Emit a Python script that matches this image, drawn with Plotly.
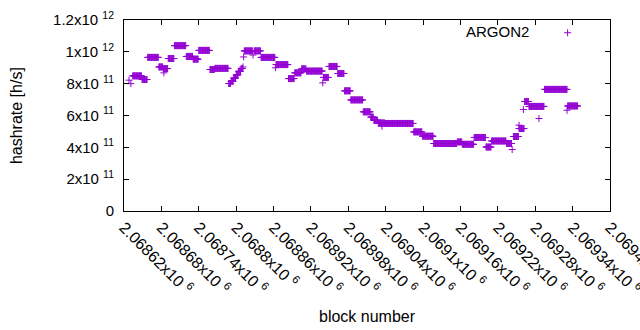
import plotly.graph_objects as go

# Runs of constant hashrate (block ranges inclusive)
run_start = [2068628, 2068631, 2068634, 2068649, 2068658, 2068676, 2068683, 2068684,
             2068691, 2068701, 2068720, 2068731, 2068740, 2068758, 2068766,
             2068788, 2068792, 2068796, 2068800, 2068804, 2068808, 2068811, 2068812,
             2068813, 2068827, 2068829, 2068840, 2068863, 2068864, 2068884, 2068894,
             2068905, 2068913, 2068939, 2068940, 2068949, 2068963, 2068974, 2068984,
             2069004, 2069016, 2069021, 2069028, 2069034, 2069039, 2069085, 2069099,
             2069117, 2069155, 2069163, 2069182, 2069201, 2069210, 2069234, 2069243,
             2069245, 2069254, 2069254, 2069261, 2069263, 2069270, 2069286, 2069295,
             2069331, 2069332]
run_end = [2068628, 2068631, 2068648, 2068657, 2068675, 2068682, 2068690, 2068684,
           2068700, 2068719, 2068730, 2068739, 2068757, 2068765, 2068787,
           2068791, 2068795, 2068799, 2068803, 2068807, 2068810, 2068811, 2068812,
           2068826, 2068827, 2068839, 2068862, 2068863, 2068883, 2068893, 2068904,
           2068912, 2068938, 2068939, 2068948, 2068962, 2068973, 2068983, 2069003,
           2069015, 2069020, 2069027, 2069038, 2069034, 2069084, 2069098, 2069116,
           2069154, 2069162, 2069181, 2069200, 2069209, 2069233, 2069242, 2069243,
           2069253, 2069262, 2069254, 2069261, 2069269, 2069294, 2069286, 2069331,
           2069331, 2069348]
run_value = [822e9, 800e9, 849e9, 826e9, 965e9, 905e9, 895e9, 868e9,
             958e9, 1039e9, 971e9, 954e9, 1009e9, 889e9, 896e9,
             801e9, 815e9, 835e9, 855e9, 878e9, 895e9, 905e9, 968e9,
             1006e9, 980e9, 1006e9, 965e9, 900e9, 920e9, 832e9, 868e9,
             893e9, 879e9, 805e9, 839e9, 908e9, 864e9, 755e9, 698e9,
             623e9, 590e9, 570e9, 553e9, 533e9, 550e9, 497e9, 470e9,
             424e9, 434e9, 419e9, 462e9, 402e9, 440e9, 424e9, 386e9,
             468e9, 518e9, 539e9, 638e9, 688e9, 657e9, 581e9, 764e9,
             633e9, 660e9]

x_tick_vals = [2068620, 2068680, 2068740, 2068800, 2068860, 2068920, 2068980,
               2069040, 2069100, 2069160, 2069220, 2069280, 2069340, 2069400]
x_tick_mant = ["2.06862", "2.06868", "2.06874", "2.0688", "2.06886", "2.06892", "2.06898",
               "2.06904", "2.0691", "2.06916", "2.06922", "2.06928", "2.06934", "2.0694"]
y_tick_vals = [0, 2e11, 4e11, 6e11, 8e11, 1e12, 1.2e12]
y_tick_text = ["0", "2x10 <sup>11</sup>", "4x10 <sup>11</sup>", "6x10 <sup>11</sup>",
               "8x10 <sup>11</sup>", "1x10 <sup>12</sup>", "1.2x10 <sup>12</sup>"]

blocks, hashrate = [], []
for s, e, v in zip(run_start, run_end, run_value):
    for b in range(s, e + 1):
        blocks.append(b)
        hashrate.append(v)

COLOR = "#9400D3"
FONT = "Liberation Sans, Arial, sans-serif"

fig = go.Figure()
fig.add_trace(go.Scatter(
    x=blocks, y=hashrate, mode="markers", name="ARGON2", showlegend=False,
    marker=dict(symbol="cross-thin", size=5, color=COLOR,
                line=dict(color=COLOR, width=1)),
    hoverinfo="skip",
))

axis_common = dict(showline=True, linecolor="black", linewidth=1, mirror="ticks",
                   ticks="inside", ticklen=5, tickcolor="black", tickwidth=1,
                   showgrid=False, zeroline=False, automargin=False,
                   ticklabeloverflow="allow")

fig.update_layout(
    width=640, height=330,
    margin=dict(l=124, r=30, t=20, b=119),
    paper_bgcolor="white", plot_bgcolor="white",
    font=dict(family=FONT, size=15, color="black"),
    xaxis=dict(range=[2068620, 2069400], tickvals=x_tick_vals,
               ticktext=[m + "x10 <sup>6</sup>" for m in x_tick_mant],
               tickangle=45, tickfont=dict(family=FONT, size=16, color="black"),
               **axis_common),
    yaxis=dict(range=[0, 1.2e12], tickvals=y_tick_vals, ticktext=y_tick_text,
               ticklabelstandoff=6, tickfont=dict(family=FONT, size=15, color="black"),
               **axis_common),
    annotations=[
        dict(text="hashrate [h/s]", xref="paper", yref="paper", x=-0.221, y=0.5,
             textangle=-90, showarrow=False, xanchor="center", yanchor="middle",
             font=dict(family=FONT, size=16, color="black")),
        dict(text="block number", xref="paper", yref="paper", x=0.5, y=-0.552,
             showarrow=False, xanchor="center", yanchor="middle",
             font=dict(family=FONT, size=16, color="black")),
        dict(text="ARGON2", xref="paper", yref="paper", x=0.8374, y=0.94,
             showarrow=False, xanchor="right", yanchor="middle",
             font=dict(family=FONT, size=15, color="black")),
    ],
    shapes=[
        dict(type="line", xref="paper", yref="paper", x0=0.9056, x1=0.9200,
             y0=0.9334, y1=0.9334, line=dict(color=COLOR, width=1)),
        dict(type="line", xref="paper", yref="paper", x0=0.9128, x1=0.9128,
             y0=0.9150, y1=0.9518, line=dict(color=COLOR, width=1)),
    ],
)

fig.write_html("out.html", config={"displayModeBar": False},
               post_script="document.body.style.margin='0';")
